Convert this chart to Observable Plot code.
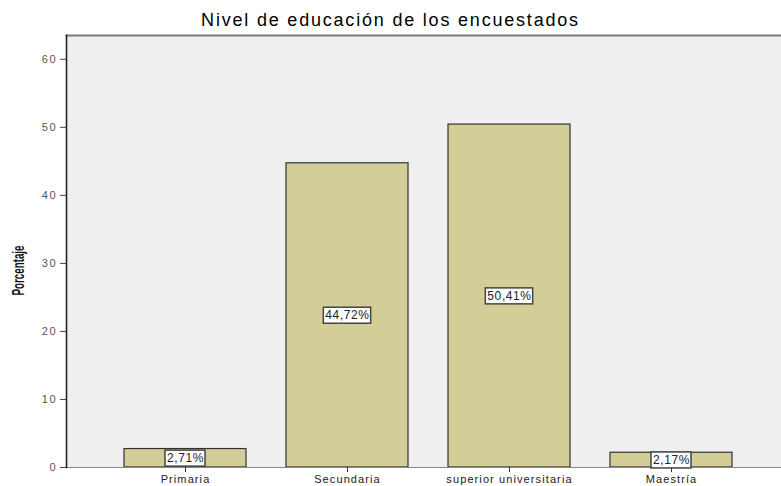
<!DOCTYPE html>
<html>
<head>
<meta charset="utf-8">
<script src="https://cdn.jsdelivr.net/npm/d3@7"></script>
<script src="https://cdn.jsdelivr.net/npm/@observablehq/plot@0.6"></script>
<style>
  html, body { margin: 0; padding: 0; background: #fff; }
  #titulo { height: 30px; line-height: 40px; text-align: center; font-family: "Liberation Sans", Arial, sans-serif; font-size: 18px; letter-spacing: 1.8px; color: #000; width: 781px; }
  #chart svg { display: block; }
  #chart g[aria-label="x-axis tick label"] text { letter-spacing: 1.1px; }
  #chart g[aria-label="y-axis tick label"] text { letter-spacing: 1.8px; }
  #chart g.etq text { letter-spacing: 0.6px; }
</style>
</head>
<body>
<div id="titulo">Nivel de educación de los encuestados</div>
<div id="chart"></div>
<script>
const categorias = ["Primaria", "Secundaria", "superior universitaria", "Maestría"];
const porcentajes = [2.71, 44.72, 50.41, 2.17];
const etiquetas = ["2,71%", "44,72%", "50,41%", "2,17%"];
const ticksY = [0, 10, 20, 30, 40, 50, 60];
const tituloY = "Porcentaje";

const data = categorias.map((c, i) => ({categoria: c, valor: porcentajes[i], etiqueta: etiquetas[i]}));

const chart = Plot.plot({
  width: 781,
  height: 456,
  marginTop: 5,
  marginLeft: 66,
  marginRight: 0,
  marginBottom: 19,
  style: {fontFamily: "'Liberation Sans', Arial, sans-serif", background: "white", color: "#333", fontSize: "11px"},
  x: {domain: categorias, range: [66, 790], paddingInner: 0.25, paddingOuter: 0.35, label: null},
  y: {domain: [0, 63.5], label: null},
  marks: [
    Plot.frame({fill: "#efefef", stroke: null}),
    Plot.frame({anchor: "top", stroke: "#7a7a7a", strokeWidth: 2}),
    Plot.barY(data, {x: "categoria", y: "valor", fill: "#d3ce97", stroke: "#333", strokeWidth: 1.2}),
    Plot.ruleY([0], {stroke: "#888", strokeWidth: 1}),
    Plot.frame({anchor: "left", stroke: "#222", strokeWidth: 1.6}),
    Plot.axisX({tickSize: 5, tickPadding: 3, label: null, fill: "#222", stroke: "#333"}),
    Plot.axisY({ticks: ticksY, tickSize: 6, tickPadding: 3, label: null, fill: "#555", stroke: "#444"}),
    Plot.text(data, {x: "categoria", y: d => d.valor / 2, text: "etiqueta", className: "etq", fill: "#222", fontSize: 12}),
    Plot.text([tituloY], {frameAnchor: "left", textAnchor: "middle", dx: -48, dy: 19, rotate: -90, fontWeight: "bold", fontSize: 16, fill: "#111", className: "ytit"})
  ]
});

document.getElementById("chart").appendChild(chart);

chart.querySelectorAll("g.ytit text").forEach(t => {
  t.setAttribute("textLength", 50);
  t.setAttribute("lengthAdjust", "spacingAndGlyphs");
});

chart.querySelectorAll("g.etq text").forEach(t => {
  const b = t.getBBox();
  const r = document.createElementNS("http://www.w3.org/2000/svg", "rect");
  r.setAttribute("x", b.x - 2);
  r.setAttribute("y", b.y - 1);
  r.setAttribute("width", b.width + 3);
  r.setAttribute("height", b.height + 2);
  r.setAttribute("fill", "white");
  r.setAttribute("stroke", "#444");
  r.setAttribute("stroke-width", 1.5);
  const tr = t.getAttribute("transform");
  if (tr) r.setAttribute("transform", tr);
  t.parentNode.insertBefore(r, t);
});
</script>
</body>
</html>
